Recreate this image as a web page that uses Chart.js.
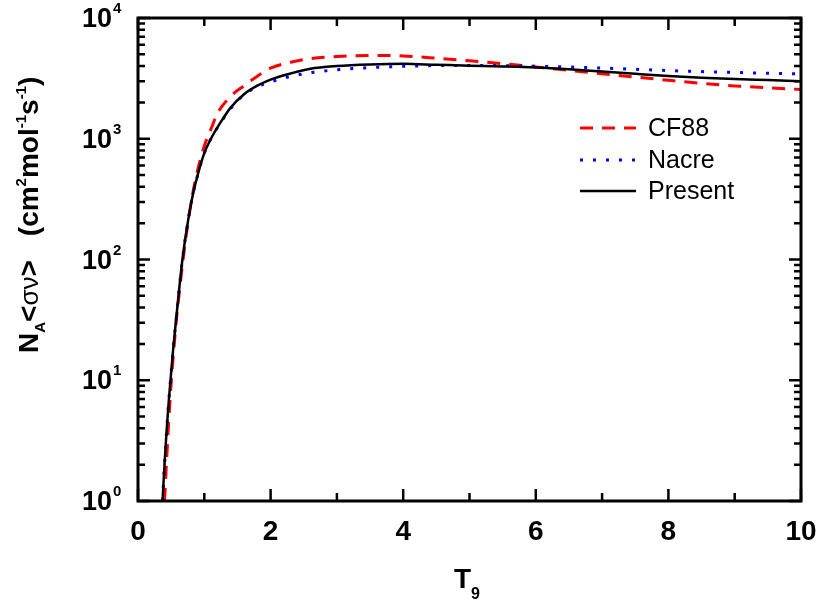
<!DOCTYPE html>
<html>
<head>
<meta charset="utf-8">
<script src="https://cdn.jsdelivr.net/npm/chart.js@4.4.1/dist/chart.umd.min.js"></script>
<style>
    html, body { margin: 0; padding: 0; background: #fff; }
    #wrap { width: 817px; height: 605px; }
</style>
</head>
<body>
<div id="wrap"><canvas id="rate-chart"></canvas></div>
<script>
// Reaction rate N_A<sigma v> vs T9
const t9Present = [0.37, 0.40, 0.43, 0.46, 0.49, 0.53, 0.57, 0.62, 0.67, 0.74, 0.82, 0.90, 1.00, 1.10, 1.25, 1.40, 1.60, 1.80, 2.00, 2.30, 2.60, 3.00, 3.50, 4.00, 4.50, 5.00, 5.50, 6.00, 6.50, 7.00, 7.50, 8.00, 8.50, 9.00, 9.50, 10.0];
const ratePresent = [1.0, 2.0, 3.7, 6.3, 10, 18, 30, 56, 100, 186, 330, 500, 760, 1000, 1380, 1820, 2340, 2750, 3090, 3470, 3800, 4000, 4120, 4170, 4100, 4030, 3970, 3890, 3760, 3600, 3450, 3310, 3200, 3120, 3060, 3000];

const t9CF88 = [0.40, 0.43, 0.46, 0.50, 0.54, 0.58, 0.63, 0.68, 0.75, 0.82, 0.90, 1.00, 1.10, 1.20, 1.40, 1.60, 1.80, 2.00, 2.30, 2.60, 3.00, 3.50, 4.00, 4.50, 5.00, 5.50, 6.00, 6.50, 7.00, 7.50, 8.00, 8.50, 9.00, 9.50, 10.0];
const rateCF88 = [1.0, 2.1, 4.2, 9.5, 18, 32, 58, 100, 195, 340, 550, 870, 1200, 1630, 2250, 2750, 3300, 3850, 4300, 4600, 4800, 4900, 4850, 4650, 4420, 4180, 3930, 3680, 3450, 3240, 3050, 2880, 2740, 2640, 2560];

const t9Nacre = [0.37, 0.40, 0.43, 0.46, 0.49, 0.53, 0.57, 0.62, 0.67, 0.74, 0.82, 0.90, 1.00, 1.10, 1.25, 1.40, 1.60, 1.80, 2.00, 2.30, 2.60, 3.00, 3.50, 4.00, 4.50, 5.00, 5.50, 6.00, 6.50, 7.00, 7.50, 8.00, 8.50, 9.00, 9.50, 10.0];
const rateNacre = [1.0, 2.0, 3.7, 6.3, 10, 18, 30, 56, 100, 186, 330, 500, 760, 1000, 1370, 1790, 2320, 2700, 2960, 3280, 3520, 3730, 3880, 3980, 4040, 4050, 4030, 3990, 3930, 3850, 3760, 3670, 3600, 3540, 3490, 3450];

const xMajorTicks = [0, 2, 4, 6, 8, 10];
const xMinorTicks = [1, 3, 5, 7, 9];
const xTickLabels = ['0', '2', '4', '6', '8', '10'];
const yExponents = [0, 1, 2, 3, 4];

const FONT = '"Liberation Sans", Arial, sans-serif';

function toPoints(xs, ys) {
    return xs.map((x, i) => ({ x: x, y: ys[i] }));
}

// draw a run of text pieces one after another (baseline offsets in dy)
function drawRich(ctx, parts, x, y) {
    let cx = x;
    parts.forEach(p => {
        ctx.font = p.font;
        ctx.fillText(p.t, cx, y + (p.dy || 0));
        cx += ctx.measureText(p.t).width + (p.gap || 0);
    });
}

const framePlugin = {
    id: 'frame',
    afterDraw(chart) {
        const ctx = chart.ctx;
        const xs = chart.scales.x;
        const ys = chart.scales.y;
        const area = chart.chartArea;
        ctx.save();
        ctx.strokeStyle = '#000';
        ctx.fillStyle = '#000';
        ctx.lineWidth = 2.5;
        ctx.setLineDash([]);

        // ticks, inward on all four sides
        ctx.beginPath();
        xMajorTicks.concat(xMinorTicks).forEach(v => {
            const len = xMajorTicks.includes(v) ? 12 : 8;
            const px = xs.getPixelForValue(v);
            ctx.moveTo(px, area.bottom); ctx.lineTo(px, area.bottom - len);
            ctx.moveTo(px, area.top); ctx.lineTo(px, area.top + len);
        });
        yExponents.forEach(e => {
            for (let m = 1; m <= 9; m++) {
                const v = m * Math.pow(10, e);
                if (v > 10000) break;
                const len = m === 1 ? 12 : 7;
                const py = ys.getPixelForValue(v);
                ctx.moveTo(area.left, py); ctx.lineTo(area.left + len, py);
                ctx.moveTo(area.right, py); ctx.lineTo(area.right - len, py);
            }
        });
        ctx.stroke();

        // frame
        ctx.lineWidth = 3;
        ctx.strokeRect(area.left, area.top, area.right - area.left, area.bottom - area.top);

        // x tick labels
        ctx.textAlign = 'center';
        ctx.textBaseline = 'alphabetic';
        ctx.font = 'bold 28px ' + FONT;
        xMajorTicks.forEach((v, i) => {
            ctx.fillText(xTickLabels[i], xs.getPixelForValue(v), 540);
        });

        // y tick labels 10^n
        yExponents.forEach(e => {
            const py = ys.getPixelForValue(Math.pow(10, e));
            ctx.textAlign = 'right';
            ctx.font = 'bold 27px ' + FONT;
            ctx.fillText('10', 112, py + 9);
            ctx.textAlign = 'left';
            ctx.font = 'bold 15px ' + FONT;
            ctx.fillText(String(e), 113, py - 5);
        });

        // x title T9
        ctx.textAlign = 'left';
        drawRich(ctx, [
            { t: 'T', font: 'bold 28px ' + FONT },
            { t: '9', font: 'bold 16px ' + FONT, dy: 11 }
        ], 454, 588);

        // y title, rotated
        ctx.save();
        ctx.translate(38, 353);
        ctx.rotate(-Math.PI / 2);
        const big = 'bold 28px ' + FONT;
        const sup = 'bold 15px ' + FONT;
        drawRich(ctx, [
            { t: 'N', font: big },
            { t: 'A', font: sup, dy: 7 },
            { t: '<', font: big },
            { t: 'σν', font: '26px ' + FONT },
            { t: '>', font: big, gap: 24 },
            { t: '(cm', font: big },
            { t: '2', font: sup, dy: -12 },
            { t: 'mol', font: big },
            { t: '-1', font: sup, dy: -12 },
            { t: 's', font: big },
            { t: '-1', font: sup, dy: -12 },
            { t: ')', font: big }
        ], 0, 0);
        ctx.restore();

        // legend
        const legend = [
            { label: 'CF88', color: '#ff0000', dash: [13, 9], width: 3, y: 128 },
            { label: 'Nacre', color: '#0000ff', dash: [3, 10], width: 3, y: 160 },
            { label: 'Present', color: '#000000', dash: [], width: 2.5, y: 191 }
        ];
        legend.forEach(item => {
            ctx.strokeStyle = item.color;
            ctx.lineWidth = item.width;
            ctx.setLineDash(item.dash);
            ctx.beginPath();
            ctx.moveTo(580, item.y);
            ctx.lineTo(636, item.y);
            ctx.stroke();
            ctx.setLineDash([]);
            ctx.fillStyle = '#000';
            ctx.font = '25px ' + FONT;
            ctx.textAlign = 'left';
            ctx.textBaseline = 'middle';
            ctx.fillText(item.label, 648, item.y + 1);
        });
        ctx.restore();
    }
};

const ctx = document.getElementById('rate-chart');

new Chart(ctx, {
    type: 'line',
    data: {
        datasets: [
            {
                label: 'CF88',
                data: toPoints(t9CF88, rateCF88),
                borderColor: '#ff0000',
                borderWidth: 3,
                borderDash: [13, 9],
                order: 3
            },
            {
                label: 'Nacre',
                data: toPoints(t9Nacre, rateNacre),
                borderColor: '#0000ff',
                borderWidth: 3,
                borderDash: [3, 10],
                order: 2
            },
            {
                label: 'Present',
                data: toPoints(t9Present, ratePresent),
                borderColor: '#000000',
                borderWidth: 2.5,
                order: 1
            }
        ]
    },
    options: {
        responsive: true,
        maintainAspectRatio: false,
        animation: false,
        layout: {
            padding: { left: 138, right: 16, top: 18, bottom: 104 }
        },
        elements: {
            point: { radius: 0 },
            line: { cubicInterpolationMode: 'monotone', fill: false }
        },
        plugins: {
            legend: { display: false },
            tooltip: { enabled: false }
        },
        scales: {
            x: {
                type: 'linear',
                min: 0,
                max: 10,
                display: false
            },
            y: {
                type: 'logarithmic',
                min: 1,
                max: 10000,
                display: false
            }
        }
    },
    plugins: [framePlugin]
});
</script>
</body>
</html>
